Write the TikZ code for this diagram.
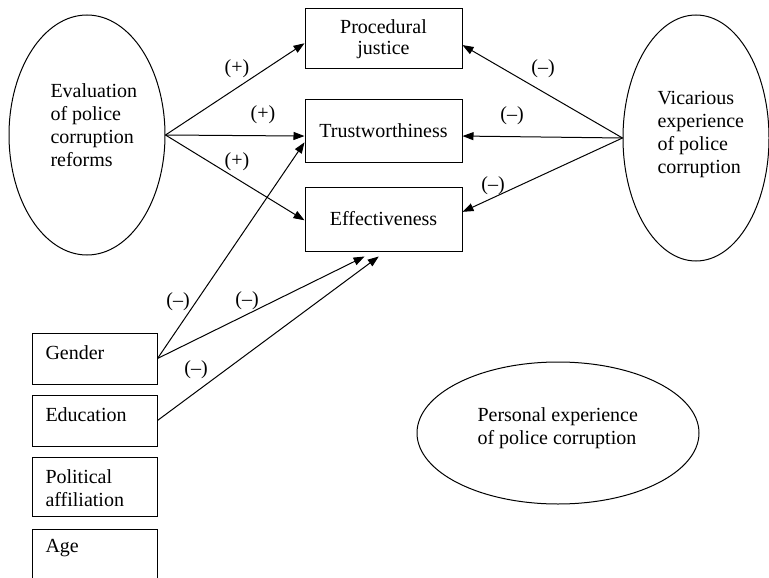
\documentclass[tikz,border=0pt]{standalone}
\usepackage{fontspec}
\setmainfont{Liberation Serif}
\usetikzlibrary{shapes.geometric,arrows.meta,calc}
\begin{document}
\begin{tikzpicture}[x=1pt,y=-1pt, line width=1pt,
  box/.style={draw, rectangle, inner sep=0pt, minimum width=157pt},
  smallbox/.style={draw, rectangle, inner sep=0pt, minimum width=125pt},
  oval/.style={draw, ellipse, inner sep=0pt},
  txt/.style={font=\fontsize{20}{23}\selectfont, align=left, inner sep=0pt},
  ctxt/.style={font=\fontsize{20}{23}\selectfont, align=center},
  lbl/.style={font=\fontsize{20}{22}\selectfont, inner sep=0pt},
  arr/.style={-{Triangle[length=11pt,width=8pt]}}]
\useasboundingbox (0,0) rectangle (769,578);
\clip (0,0) rectangle (769,578);

% ellipses
\node[oval, minimum width=156pt, minimum height=240pt] (eval) at (87,135) {};
\node[txt, anchor=west] (evaltxt) at (50,125) {Evaluation\\of police\\corruption\\reforms};
\node[oval, minimum width=146pt, minimum height=246pt] (vic) at (696,138) {};
\node[txt, anchor=west] (victxt) at (657,135) {Vicarious\\experience\\of police\\corruption};
\node[oval, minimum width=282pt, minimum height=142pt] (pers) at (558,433) {};
\node[txt, anchor=west] (perstxt) at (477,428) {Personal experience\\of police corruption};

% outcome boxes
\node[box, minimum height=60pt, ctxt] (proc) at (383.5,39) {Procedural\\[-2pt]justice};
\node[box, minimum height=62pt, ctxt] (trust) at (383.5,131) {Trustworthiness};
\node[box, minimum height=64pt, ctxt] (eff) at (383.5,219) {Effectiveness};

% control boxes
\node[smallbox, minimum height=51pt] (gender) at (94.5,358.5) {};
\node[txt, anchor=west] (gendertxt) at (45,353) {Gender};
\node[smallbox, minimum height=51pt] (edu) at (94.5,420.5) {};
\node[txt, anchor=west] (edutxt) at (45,415) {Education};
\node[smallbox, minimum height=59pt] (pol) at (94.5,486.5) {};
\node[txt, anchor=west] (poltxt) at (45,488) {Political\\affiliation};
\node[smallbox, minimum height=80pt] (age) at (94.5,569) {};
\node[txt, anchor=west] (agetxt) at (45,548) {Age};

% arrows from evaluation
\draw[arr] (eval.east) -- ($(proc.north west)!0.57!(proc.south west)$);
\draw[arr] (eval.east) -- ($(trust.north west)!0.58!(trust.south west)$);
\draw[arr] (eval.east) -- ($(eff.north west)!0.52!(eff.south west)$);

% arrows from vicarious
\draw[arr] (vic.west) -- ($(proc.north east)!0.6!(proc.south east)$);
\draw[arr] (vic.west) -- ($(trust.north east)!0.58!(trust.south east)$);
\draw[arr] (vic.west) -- ($(eff.north east)!0.39!(eff.south east)$);

% arrows from controls
\draw[arr] (gender.east) -- ($(trust.north west)!0.68!(trust.south west)$);
\draw[arr] (gender.east) -- ($(eff.south west)!0.38!(eff.south east)+(0,5)$);
\draw[arr] (edu.east) -- ($(eff.south west)!0.47!(eff.south east)+(0,5)$);

% labels
\node[lbl] (l1) at (237,69) {(+)};
\node[lbl] (l2) at (263,115) {(+)};
\node[lbl] (l3) at (237,162) {(+)};
\node[lbl] (r1) at (543,69) {(–)};
\node[lbl] (r2) at (512,116) {(–)};
\node[lbl] (r3) at (493,186) {(–)};
\node[lbl] (g1) at (178,302) {(–)};
\node[lbl] (g2) at (247,301) {(–)};
\node[lbl] (g3) at (196,370) {(–)};
\end{tikzpicture}
\end{document}
